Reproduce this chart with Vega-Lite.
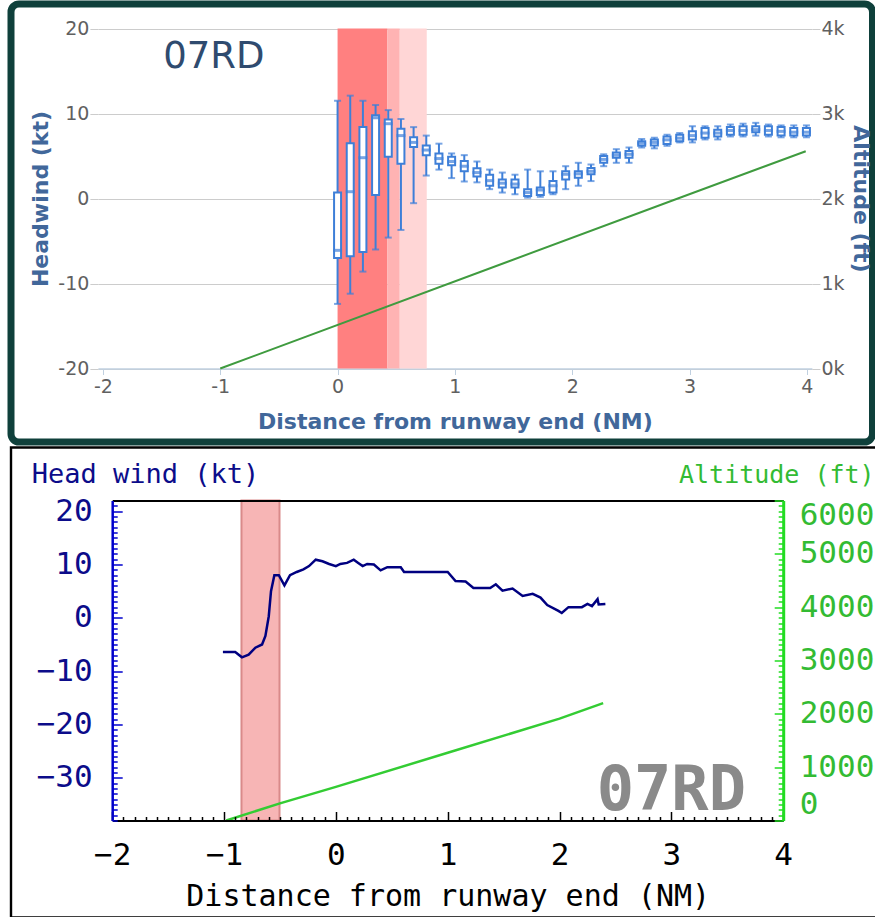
{
  "$schema": "https://vega.github.io/schema/vega-lite/v6.json",
  "background": "white",
  "padding": {"left": 7, "top": 0, "right": 0, "bottom": 0},
  "spacing": 5.5,
  "bounds": "flush",
  "config": {"view": {"stroke": null}, "axis": {"labelOverlap": false, "labelBound": false}},
  "vconcat": [
    {
      "width": 861.5,
      "height": 438,
      "view": {"fill": "white", "stroke": "#0f403b", "strokeWidth": 7, "cornerRadius": 8},
      "layer": [
        {
          "layer": [
            {
              "data": {"values": [
                {"zone": "a", "start": 0, "end": 0.425},
                {"zone": "b", "start": 0.425, "end": 0.53},
                {"zone": "c", "start": 0.53, "end": 0.76}
              ]},
              "mark": {"type": "rect"},
              "encoding": {
                "x": {"field": "start", "type": "quantitative",
                  "scale": {"domain": [-2, 4], "range": [86.9, 800.9], "nice": false, "zero": false},
                  "axis": {"values": [-2, -1, 0, 1, 2, 3, 4], "tickCount": 50, "offset": -73.5, "labelFlush": false, "labelOverlap": false,
                    "labelExpr": "datum.value < 0 ? '-' + abs(datum.value) : '' + datum.value",
                    "domainColor": "#c0d0e0", "domainWidth": 1.5, "tickColor": "#c0d0e0", "tickSize": 6,
                    "labelFont": "DejaVu Sans", "labelFontSize": 19, "labelColor": "#606060", "labelPadding": 3,
                    "title": "Distance from runway end (NM)", "titleFont": "DejaVu Sans", "titleFontSize": 22,
                    "titleFontWeight": "bold", "titleColor": "#41679a", "titleX": 443.9, "titleY": 60,
                    "titleBaseline": "alphabetic", "titleAlign": "center", "grid": false}},
                "x2": {"field": "end"},
                "y": {"datum": 20, "type": "quantitative",
                  "scale": {"domain": [-20, 20], "range": [364.5, 24.5], "nice": false, "zero": false},
                  "axis": {"values": [-20, -10, 0, 10, 20], "tickCount": 50, "offset": -86.9, "grid": true, "gridColor": "#cccccc",
                    "domain": false, "tickColor": "#cccccc", "tickSize": 8, "labelOverlap": false,
                    "labelExpr": "datum.value < 0 ? '-' + abs(datum.value) : '' + datum.value",
                    "labelFont": "DejaVu Sans", "labelFontSize": 19, "labelColor": "#606060", "labelPadding": 1,
                    "title": "Headwind (kt)", "titleFont": "DejaVu Sans", "titleFontSize": 22, "titleFontWeight": "bold",
                    "titleColor": "#41679a", "titleAngle": 270, "titleX": -57.4, "titleY": 194.5,
                    "titleBaseline": "middle", "titleAlign": "center"}},
                "y2": {"datum": -20},
                "color": {"field": "zone", "type": "nominal",
                  "scale": {"domain": ["a", "b", "c"], "range": ["#ff8080", "#ffb3b3", "#ffd6d6"]}, "legend": null}
              }
            },
            {
              "data": {"name": "boxes"},
              "mark": {"type": "rule", "color": "#3e7fd8", "strokeWidth": 2},
              "encoding": {
                "x": {"field": "d", "type": "quantitative"},
                "y": {"field": "lower", "type": "quantitative"},
                "y2": {"field": "upper"}
              }
            },
            {
              "data": {"name": "boxes"},
              "mark": {"type": "tick", "orient": "horizontal", "size": 7, "thickness": 2, "color": "#3e7fd8"},
              "encoding": {
                "x": {"field": "d", "type": "quantitative"},
                "y": {"field": "lower", "type": "quantitative"}
              }
            },
            {
              "data": {"name": "boxes"},
              "mark": {"type": "tick", "orient": "horizontal", "size": 7, "thickness": 2, "color": "#3e7fd8"},
              "encoding": {
                "x": {"field": "d", "type": "quantitative"},
                "y": {"field": "upper", "type": "quantitative"}
              }
            },
            {
              "data": {"name": "boxes"},
              "mark": {"type": "bar", "orient": "vertical", "size": 7, "fill": "white", "stroke": "#3e7fd8", "strokeWidth": 2},
              "encoding": {
                "x": {"field": "d", "type": "quantitative"},
                "y": {"field": "q1", "type": "quantitative"},
                "y2": {"field": "q3"}
              }
            },
            {
              "data": {"name": "boxes"},
              "mark": {"type": "tick", "orient": "horizontal", "size": 9, "thickness": 3, "color": "#3e7fd8"},
              "encoding": {
                "x": {"field": "d", "type": "quantitative"},
                "y": {"field": "median", "type": "quantitative"}
              }
            },
            {
              "data": {"values": [{"label": "07RD"}]},
              "mark": {"type": "text", "font": "DejaVu Sans", "fontSize": 37, "color": "#2f4b6f", "align": "center", "baseline": "middle"},
              "encoding": {
                "x": {"datum": -1.054},
                "y": {"datum": 16.6},
                "text": {"field": "label"}
              }
            }
          ]
        },
        {
          "data": {"values": [
            {"d": -1, "alt": 0},
            {"d": 2.9, "alt": 2000},
            {"d": 3.99, "alt": 2556}
          ]},
          "mark": {"type": "line", "color": "#3f9b3f", "strokeWidth": 2},
          "encoding": {
            "x": {"field": "d", "type": "quantitative"},
            "y": {"field": "alt", "type": "quantitative",
              "scale": {"domain": [0, 4000], "range": [364.5, 24.5], "nice": false, "zero": false},
              "axis": {"orient": "right", "values": [0, 1000, 2000, 3000, 4000], "tickCount": 50, "offset": -60.6, "grid": false,
                "domain": false, "tickColor": "#cccccc", "tickSize": 8, "labelOverlap": false,
                "labelExpr": "(datum.value / 1000) + 'k'",
                "labelFont": "DejaVu Sans", "labelFontSize": 19, "labelColor": "#606060", "labelPadding": 1,
                "title": "Altitude (ft)", "titleFont": "DejaVu Sans", "titleFontSize": 22, "titleFontWeight": "bold",
                "titleColor": "#41679a", "titleAngle": 90, "titleX": 48.6, "titleY": 194.5,
                "titleBaseline": "middle", "titleAlign": "center"}}
          }
        }
      ],
      "resolve": {"scale": {"y": "independent"}}
    },
    {
      "width": 868,
      "height": 470,
      "view": {"fill": "white", "stroke": "black", "strokeWidth": 2.4},
      "layer": [
        {
          "layer": [
            {
              "data": {"values": [{"start": -0.844, "end": -0.504}]},
              "mark": {"type": "rect", "fill": "#f7b5b5", "stroke": "#d98a8a", "strokeWidth": 2},
              "encoding": {
                "x": {"field": "start", "type": "quantitative",
                  "scale": {"domain": [-2, 4], "range": [101.2, 772.2], "nice": false, "zero": false},
                  "axis": {"orient": "bottom", "offset": -97, "labelOverlap": false, "tickCount": 500,
                    "values": [-2,-1.9,-1.8,-1.7,-1.6,-1.5,-1.4,-1.3,-1.2,-1.1,-1,-0.9,-0.8,-0.7,-0.6,-0.5,-0.4,-0.3,-0.2,-0.1,0,0.1,0.2,0.3,0.4,0.5,0.6,0.7,0.8,0.9,1,1.1,1.2,1.3,1.4,1.5,1.6,1.7,1.8,1.9,2,2.1,2.2,2.3,2.4,2.5,2.6,2.7,2.8,2.9,3,3.1,3.2,3.3,3.4,3.5,3.6,3.7,3.8,3.9,4],
                    "labelExpr": "abs(datum.value - round(datum.value)) < 0.01 ? (datum.value < -0.01 ? '−' + abs(round(datum.value)) : '' + round(datum.value)) : ''",
                    "labelFlush": false, "domainColor": "black", "domainWidth": 2, "tickColor": "black", "tickWidth": 1.5,
                    "tickSize": {"condition": {"test": "abs(datum.value - round(datum.value)) < 0.01", "value": -9}, "value": -4},
                    "labelFont": "DejaVu Sans Mono", "labelFontSize": 31, "labelColor": "black", "labelPadding": 29,
                    "title": "Distance from runway end (NM)", "titleFont": "DejaVu Sans Mono", "titleFontSize": 30,
                    "titleFontWeight": "normal", "titleColor": "black", "titleX": 436.7, "titleY": 85,
                    "titleBaseline": "alphabetic", "titleAlign": "center", "grid": false, "zindex": 1}},
                "x2": {"field": "end"},
                "y": {"datum": 22, "type": "quantitative",
                  "scale": {"domain": [-38, 22], "range": [373, 53], "nice": false, "zero": false},
                  "axis": {"orient": "left", "offset": -101.2, "labelOverlap": false, "tickCount": 500,
                    "values": [-38,-37,-36,-35,-34,-33,-32,-31,-30,-29,-28,-27,-26,-25,-24,-23,-22,-21,-20,-19,-18,-17,-16,-15,-14,-13,-12,-11,-10,-9,-8,-7,-6,-5,-4,-3,-2,-1,0,1,2,3,4,5,6,7,8,9,10,11,12,13,14,15,16,17,18,19,20,21],
                    "labelExpr": "datum.value % 10 === 0 ? (datum.value < 0 ? '−' + abs(datum.value) : '' + datum.value) : ''",
                    "labelFlush": false, "domainColor": "#0000cc", "domainWidth": 2.5, "tickColor": "#0000cc", "tickWidth": 1.5,
                    "tickSize": {"condition": {"test": "datum.value % 10 === 0", "value": -10}, "value": -5},
                    "labelFont": "DejaVu Sans Mono", "labelFontSize": 31, "labelColor": "#0c0c8a", "labelPadding": 30,
                    "title": "Head wind (kt)", "titleFont": "DejaVu Sans Mono", "titleFontSize": 27, "titleFontWeight": "normal",
                    "titleColor": "#0c0c8a", "titleAngle": 0, "titleX": -81, "titleY": 35,
                    "titleAlign": "left", "titleBaseline": "alphabetic", "grid": false, "zindex": 1}},
                "y2": {"datum": -38}
              }
            },
            {
              "data": {"values": [
                {"d": -1.01, "hw": -6.4}, {"d": -0.9, "hw": -6.4}, {"d": -0.84, "hw": -7.4}, {"d": -0.78, "hw": -6.9},
                {"d": -0.72, "hw": -5.6}, {"d": -0.66, "hw": -5.0}, {"d": -0.63, "hw": -3.4}, {"d": -0.6, "hw": 0.3},
                {"d": -0.58, "hw": 5.0}, {"d": -0.55, "hw": 8.0}, {"d": -0.51, "hw": 8.0}, {"d": -0.46, "hw": 6.1},
                {"d": -0.41, "hw": 8.0}, {"d": -0.35, "hw": 8.6}, {"d": -0.29, "hw": 9.1}, {"d": -0.24, "hw": 9.7},
                {"d": -0.18, "hw": 10.9}, {"d": -0.12, "hw": 10.6}, {"d": -0.06, "hw": 10.1}, {"d": 0.0, "hw": 9.7},
                {"d": 0.04, "hw": 10.1}, {"d": 0.1, "hw": 10.3}, {"d": 0.16, "hw": 10.9}, {"d": 0.2, "hw": 10.3},
                {"d": 0.24, "hw": 9.7}, {"d": 0.28, "hw": 10.1}, {"d": 0.34, "hw": 10.0}, {"d": 0.4, "hw": 8.9},
                {"d": 0.46, "hw": 9.5}, {"d": 0.58, "hw": 9.5}, {"d": 0.61, "hw": 8.6}, {"d": 1.0, "hw": 8.6},
                {"d": 1.07, "hw": 6.9}, {"d": 1.16, "hw": 6.8}, {"d": 1.23, "hw": 5.6}, {"d": 1.38, "hw": 5.6},
                {"d": 1.43, "hw": 6.3}, {"d": 1.49, "hw": 5.1}, {"d": 1.58, "hw": 5.5}, {"d": 1.67, "hw": 4.1},
                {"d": 1.76, "hw": 4.5}, {"d": 1.83, "hw": 3.8}, {"d": 1.89, "hw": 2.4}, {"d": 1.99, "hw": 1.3},
                {"d": 2.02, "hw": 0.9}, {"d": 2.08, "hw": 2.0}, {"d": 2.2, "hw": 2.0}, {"d": 2.25, "hw": 2.6},
                {"d": 2.29, "hw": 2.2}, {"d": 2.34, "hw": 3.5}, {"d": 2.35, "hw": 2.5}, {"d": 2.41, "hw": 2.6}
              ]},
              "mark": {"type": "line", "color": "#000080", "strokeWidth": 2.5},
              "encoding": {
                "x": {"field": "d", "type": "quantitative"},
                "y": {"field": "hw", "type": "quantitative"}
              }
            },
            {
              "data": {"values": [{"label": "07RD"}]},
              "mark": {"type": "text", "font": "DejaVu Sans Mono", "fontSize": 62, "fontWeight": "bold", "color": "#8a8a8a", "align": "center", "baseline": "middle"},
              "encoding": {
                "x": {"datum": 3.0},
                "y": {"datum": -32.5},
                "text": {"field": "label"}
              }
            }
          ]
        },
        {
          "data": {"values": [
            {"d": -0.98, "alt": 0}, {"d": -0.5, "alt": 320}, {"d": 0, "alt": 630},
            {"d": 1, "alt": 1270}, {"d": 2, "alt": 1910}, {"d": 2.39, "alt": 2200}
          ]},
          "mark": {"type": "line", "color": "#33cc33", "strokeWidth": 2.5},
          "encoding": {
            "x": {"field": "d", "type": "quantitative",
              "scale": {"domain": [-2, 4], "range": [101.2, 772.2], "nice": false, "zero": false},
              "axis": {"orient": "top", "offset": -53, "domainColor": "black", "domainWidth": 2, "ticks": false,
                "labels": false, "title": null, "grid": false, "zindex": 1}},
            "y": {"field": "alt", "type": "quantitative",
              "scale": {"domain": [0, 6000], "range": [373, 53], "nice": false, "zero": false},
              "axis": {"orient": "right", "offset": -95.8, "labelOverlap": false, "tickCount": 500,
                "values": [0,100,200,300,400,500,600,700,800,900,1000,1100,1200,1300,1400,1500,1600,1700,1800,1900,2000,2100,2200,2300,2400,2500,2600,2700,2800,2900,3000,3100,3200,3300,3400,3500,3600,3700,3800,3900,4000,4100,4200,4300,4400,4500,4600,4700,4800,4900,5000,5100,5200,5300,5400,5500,5600,5700,5800,5900,6000],
                "labelExpr": "datum.value % 1000 === 0 ? '' + datum.value : ''",
                "labelFlush": true, "domainColor": "#22dd22", "domainWidth": 3, "tickColor": "#22dd22", "tickWidth": 1.5,
                "tickSize": {"condition": {"test": "datum.value % 1000 === 0", "value": -9}, "value": -5},
                "labelFont": "DejaVu Sans Mono", "labelFontSize": 31, "labelColor": "#33bb33", "labelPadding": 25,
                "title": "Altitude (ft)", "titleFont": "DejaVu Sans Mono", "titleFontSize": 25, "titleFontWeight": "normal",
                "titleColor": "#33bb33", "titleAngle": 0, "titleX": -104.7, "titleY": 35,
                "titleAlign": "left", "titleBaseline": "alphabetic", "grid": false, "zindex": 1}}
          }
        }
      ],
      "resolve": {"scale": {"x": "independent", "y": "independent"}}
    }
  ],
  "datasets": {
    "boxes": [
      {"d": 0, "lower": -12.4, "q1": -7.0, "median": -6.1, "q3": 0.7, "upper": 11.5},
      {"d": 0.108, "lower": -11.2, "q1": -6.8, "median": 0.8, "q3": 6.5, "upper": 12.1},
      {"d": 0.216, "lower": -8.6, "q1": -6.3, "median": 4.8, "q3": 8.4, "upper": 11.5},
      {"d": 0.324, "lower": -6.0, "q1": 0.4, "median": 9.5, "q3": 9.8, "upper": 11.0},
      {"d": 0.432, "lower": -4.6, "q1": 4.9, "median": 8.8, "q3": 9.3, "upper": 10.4},
      {"d": 0.54, "lower": -3.7, "q1": 4.1, "median": 7.4, "q3": 8.2, "upper": 9.35},
      {"d": 0.648, "lower": -0.55, "q1": 6.05, "median": 6.6, "q3": 7.2, "upper": 8.4},
      {"d": 0.756, "lower": 2.7, "q1": 5.1, "median": 5.7, "q3": 6.25, "upper": 7.4},
      {"d": 0.864, "lower": 3.4, "q1": 4.1, "median": 4.7, "q3": 5.3, "upper": 6.45},
      {"d": 0.972, "lower": 2.4, "q1": 3.9, "median": 4.35, "q3": 4.9, "upper": 5.3},
      {"d": 1.08, "lower": 2.0, "q1": 3.2, "median": 3.8, "q3": 4.4, "upper": 5.1},
      {"d": 1.188, "lower": 1.9, "q1": 2.6, "median": 3.05, "q3": 3.55, "upper": 4.35},
      {"d": 1.296, "lower": 1.1, "q1": 1.5, "median": 2.1, "q3": 2.8, "upper": 3.4},
      {"d": 1.404, "lower": 0.7, "q1": 1.3, "median": 1.8, "q3": 2.25, "upper": 3.05},
      {"d": 1.512, "lower": 0.5, "q1": 1.3, "median": 1.7, "q3": 2.25, "upper": 2.8},
      {"d": 1.62, "lower": 0.1, "q1": 0.3, "median": 0.7, "q3": 1.1, "upper": 3.4},
      {"d": 1.728, "lower": 0.2, "q1": 0.4, "median": 1.0, "q3": 1.3, "upper": 3.2},
      {"d": 1.836, "lower": 0.5, "q1": 0.7, "median": 1.5, "q3": 2.05, "upper": 3.2},
      {"d": 1.944, "lower": 1.1, "q1": 2.25, "median": 2.85, "q3": 3.2, "upper": 3.8},
      {"d": 2.052, "lower": 1.5, "q1": 2.45, "median": 2.9, "q3": 3.2, "upper": 4.2},
      {"d": 2.16, "lower": 2.05, "q1": 2.85, "median": 3.2, "q3": 3.6, "upper": 4.0},
      {"d": 2.268, "lower": 3.8, "q1": 4.2, "median": 4.6, "q3": 5.0, "upper": 5.2},
      {"d": 2.376, "lower": 4.2, "q1": 4.8, "median": 5.1, "q3": 5.4, "upper": 5.8},
      {"d": 2.484, "lower": 4.2, "q1": 4.8, "median": 5.2, "q3": 5.6, "upper": 6.0},
      {"d": 2.592, "lower": 6.0, "q1": 6.2, "median": 6.5, "q3": 6.75, "upper": 7.0},
      {"d": 2.7, "lower": 5.9, "q1": 6.25, "median": 6.6, "q3": 6.95, "upper": 7.15},
      {"d": 2.808, "lower": 6.2, "q1": 6.4, "median": 6.9, "q3": 7.3, "upper": 7.5},
      {"d": 2.916, "lower": 6.6, "q1": 6.75, "median": 7.1, "q3": 7.5, "upper": 7.7},
      {"d": 3.024, "lower": 6.6, "q1": 6.95, "median": 7.4, "q3": 7.9, "upper": 8.5},
      {"d": 3.132, "lower": 6.95, "q1": 7.15, "median": 7.7, "q3": 8.3, "upper": 8.5},
      {"d": 3.24, "lower": 6.95, "q1": 7.3, "median": 7.7, "q3": 8.1, "upper": 8.5},
      {"d": 3.348, "lower": 7.3, "q1": 7.5, "median": 8.0, "q3": 8.4, "upper": 8.7},
      {"d": 3.456, "lower": 7.3, "q1": 7.5, "median": 8.0, "q3": 8.5, "upper": 8.8},
      {"d": 3.564, "lower": 7.4, "q1": 7.8, "median": 8.1, "q3": 8.5, "upper": 8.9},
      {"d": 3.672, "lower": 7.3, "q1": 7.5, "median": 8.0, "q3": 8.5, "upper": 8.7},
      {"d": 3.78, "lower": 7.2, "q1": 7.4, "median": 7.9, "q3": 8.4, "upper": 8.6},
      {"d": 3.888, "lower": 7.2, "q1": 7.4, "median": 7.8, "q3": 8.3, "upper": 8.6},
      {"d": 3.996, "lower": 7.2, "q1": 7.4, "median": 7.8, "q3": 8.3, "upper": 8.6}
    ]
  }
}
